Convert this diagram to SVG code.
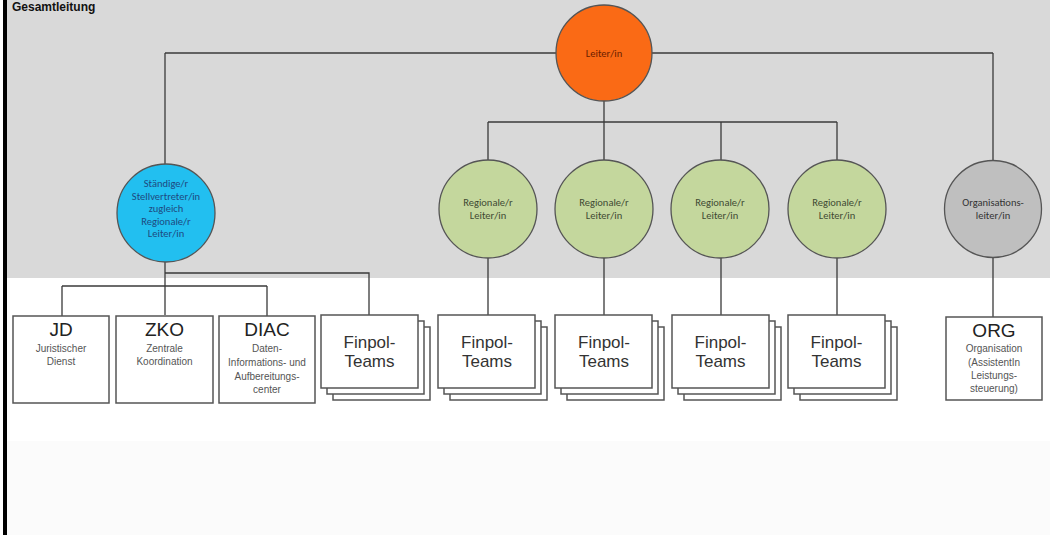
<svg xmlns="http://www.w3.org/2000/svg" width="1050" height="535" viewBox="0 0 1050 535">
<style>
.ln{fill:none;stroke:#3a3a3a;stroke-width:1.3}
.box{fill:#fff;stroke:#555;stroke-width:1.5}
.circ{stroke:#555;stroke-width:1.3}
.ct{font-family:Carlito,"Liberation Sans",Arial,sans-serif;font-size:10.5px;text-anchor:middle}
.big{font-family:"Liberation Sans",Arial,sans-serif;font-size:19px;text-anchor:middle;fill:#222}
.small{font-family:"Liberation Sans",Arial,sans-serif;font-size:10px;text-anchor:middle;fill:#555}
.fp{font-family:"Liberation Sans",Arial,sans-serif;font-size:17px;text-anchor:middle;fill:#333}
</style>
<defs>
<g id="stack">
<rect class="box" x="12" y="12" width="97" height="73"/>
<rect class="box" x="6" y="6" width="97" height="73"/>
<rect class="box" x="0" y="0" width="97" height="73"/>
</g>
</defs>
<rect x="0" y="0" width="1050" height="535" fill="#fff"/>
<rect x="7" y="0" width="1043" height="278" fill="#d9d9d9"/>
<rect x="7" y="441" width="1043" height="94" fill="#fbfbfb"/>
<rect x="3" y="0" width="4" height="535" fill="#000"/>
<text x="12" y="11" font-family="Liberation Sans,Arial,sans-serif" font-size="12" font-weight="bold" fill="#111">Gesamtleitung</text>

<g id="connectors">
<path class="ln" d="M165 53H993"/>
<path class="ln" d="M165 53V165"/>
<path class="ln" d="M993 53V161"/>
<path class="ln" d="M604 100V122"/>
<path class="ln" d="M488 122H837"/>
<path class="ln" d="M488 122V161M604 122V161M721 122V161M837 122V161"/>
<path class="ln" d="M165 262V315"/>
<path class="ln" d="M165 273H369V315"/>
<path class="ln" d="M62 286H267"/>
<path class="ln" d="M62 286V316M267 286V316"/>
<path class="ln" d="M488 257V315M604 257V315M721 257V315M837 257V315"/>
<path class="ln" d="M993 257V317"/>
</g>

<g id="leiter">
<circle class="circ" cx="604" cy="53" r="48" fill="#fa6a15" stroke="#7a3a10"/>
<text class="ct" x="604" y="57" fill="#6a1e00">Leiter/in</text>
</g>

<g id="stellvertreter">
<circle class="circ" cx="166" cy="213" r="49" fill="#22bff0"/>
<text class="ct" fill="#1e4a80"><tspan x="166" y="187">Ständige/r</tspan><tspan x="166" y="199.5">Stellvertreter/in</tspan><tspan x="166" y="212">zugleich</tspan><tspan x="166" y="224.5">Regionale/r</tspan><tspan x="166" y="237">Leiter/in</tspan></text>
</g>

<g id="regional1">
<circle class="circ" cx="488" cy="209" r="49" fill="#c4d79d"/>
<text class="ct" fill="#3f4a33"><tspan x="488" y="206">Regionale/r</tspan><tspan x="488" y="219">Leiter/in</tspan></text>
</g>
<g id="regional2">
<circle class="circ" cx="604" cy="209" r="49" fill="#c4d79d"/>
<text class="ct" fill="#3f4a33"><tspan x="604" y="206">Regionale/r</tspan><tspan x="604" y="219">Leiter/in</tspan></text>
</g>
<g id="regional3">
<circle class="circ" cx="720" cy="209" r="49" fill="#c4d79d"/>
<text class="ct" fill="#3f4a33"><tspan x="720" y="206">Regionale/r</tspan><tspan x="720" y="219">Leiter/in</tspan></text>
</g>
<g id="regional4">
<circle class="circ" cx="837" cy="209" r="49" fill="#c4d79d"/>
<text class="ct" fill="#3f4a33"><tspan x="837" y="206">Regionale/r</tspan><tspan x="837" y="219">Leiter/in</tspan></text>
</g>
<g id="orgleiter">
<circle class="circ" cx="993" cy="209" r="48.5" fill="#bfbfbf"/>
<text class="ct" fill="#333"><tspan x="993" y="206">Organisations-</tspan><tspan x="993" y="219">leiter/in</tspan></text>
</g>

<g id="jd">
<rect class="box" x="13" y="316" width="96" height="87"/>
<text class="big" x="61" y="336">JD</text>
<text class="small"><tspan x="61" y="352">Juristischer</tspan><tspan x="61" y="365">Dienst</tspan></text>
</g>
<g id="zko">
<rect class="box" x="116" y="316" width="97" height="87"/>
<text class="big" x="164.5" y="336">ZKO</text>
<text class="small"><tspan x="164.5" y="352">Zentrale</tspan><tspan x="164.5" y="365">Koordination</tspan></text>
</g>
<g id="diac">
<rect class="box" x="219" y="316" width="96" height="87"/>
<text class="big" x="267" y="336">DIAC</text>
<text class="small"><tspan x="267" y="352">Daten-</tspan><tspan x="267" y="365.5">Informations- und</tspan><tspan x="267" y="379.5">Aufbereitungs-</tspan><tspan x="267" y="393">center</tspan></text>
</g>
<g id="finpol0">
<use href="#stack" x="321" y="315"/>
<text class="fp"><tspan x="369.5" y="348">Finpol-</tspan><tspan x="369.5" y="367">Teams</tspan></text>
</g>
<g id="finpol1">
<use href="#stack" x="438" y="315"/>
<text class="fp"><tspan x="487" y="348">Finpol-</tspan><tspan x="487" y="367">Teams</tspan></text>
</g>
<g id="finpol2">
<use href="#stack" x="555" y="315"/>
<text class="fp"><tspan x="604" y="348">Finpol-</tspan><tspan x="604" y="367">Teams</tspan></text>
</g>
<g id="finpol3">
<use href="#stack" x="672" y="315"/>
<text class="fp"><tspan x="720.5" y="348">Finpol-</tspan><tspan x="720.5" y="367">Teams</tspan></text>
</g>
<g id="finpol4">
<use href="#stack" x="788" y="315"/>
<text class="fp"><tspan x="836.5" y="348">Finpol-</tspan><tspan x="836.5" y="367">Teams</tspan></text>
</g>
<g id="org">
<rect class="box" x="946" y="317" width="96" height="83"/>
<text class="big" x="994" y="337">ORG</text>
<text class="small"><tspan x="994" y="352">Organisation</tspan><tspan x="994" y="365.5">(AssistentIn</tspan><tspan x="994" y="379">Leistungs-</tspan><tspan x="994" y="392">steuerung)</tspan></text>
</g>
</svg>
